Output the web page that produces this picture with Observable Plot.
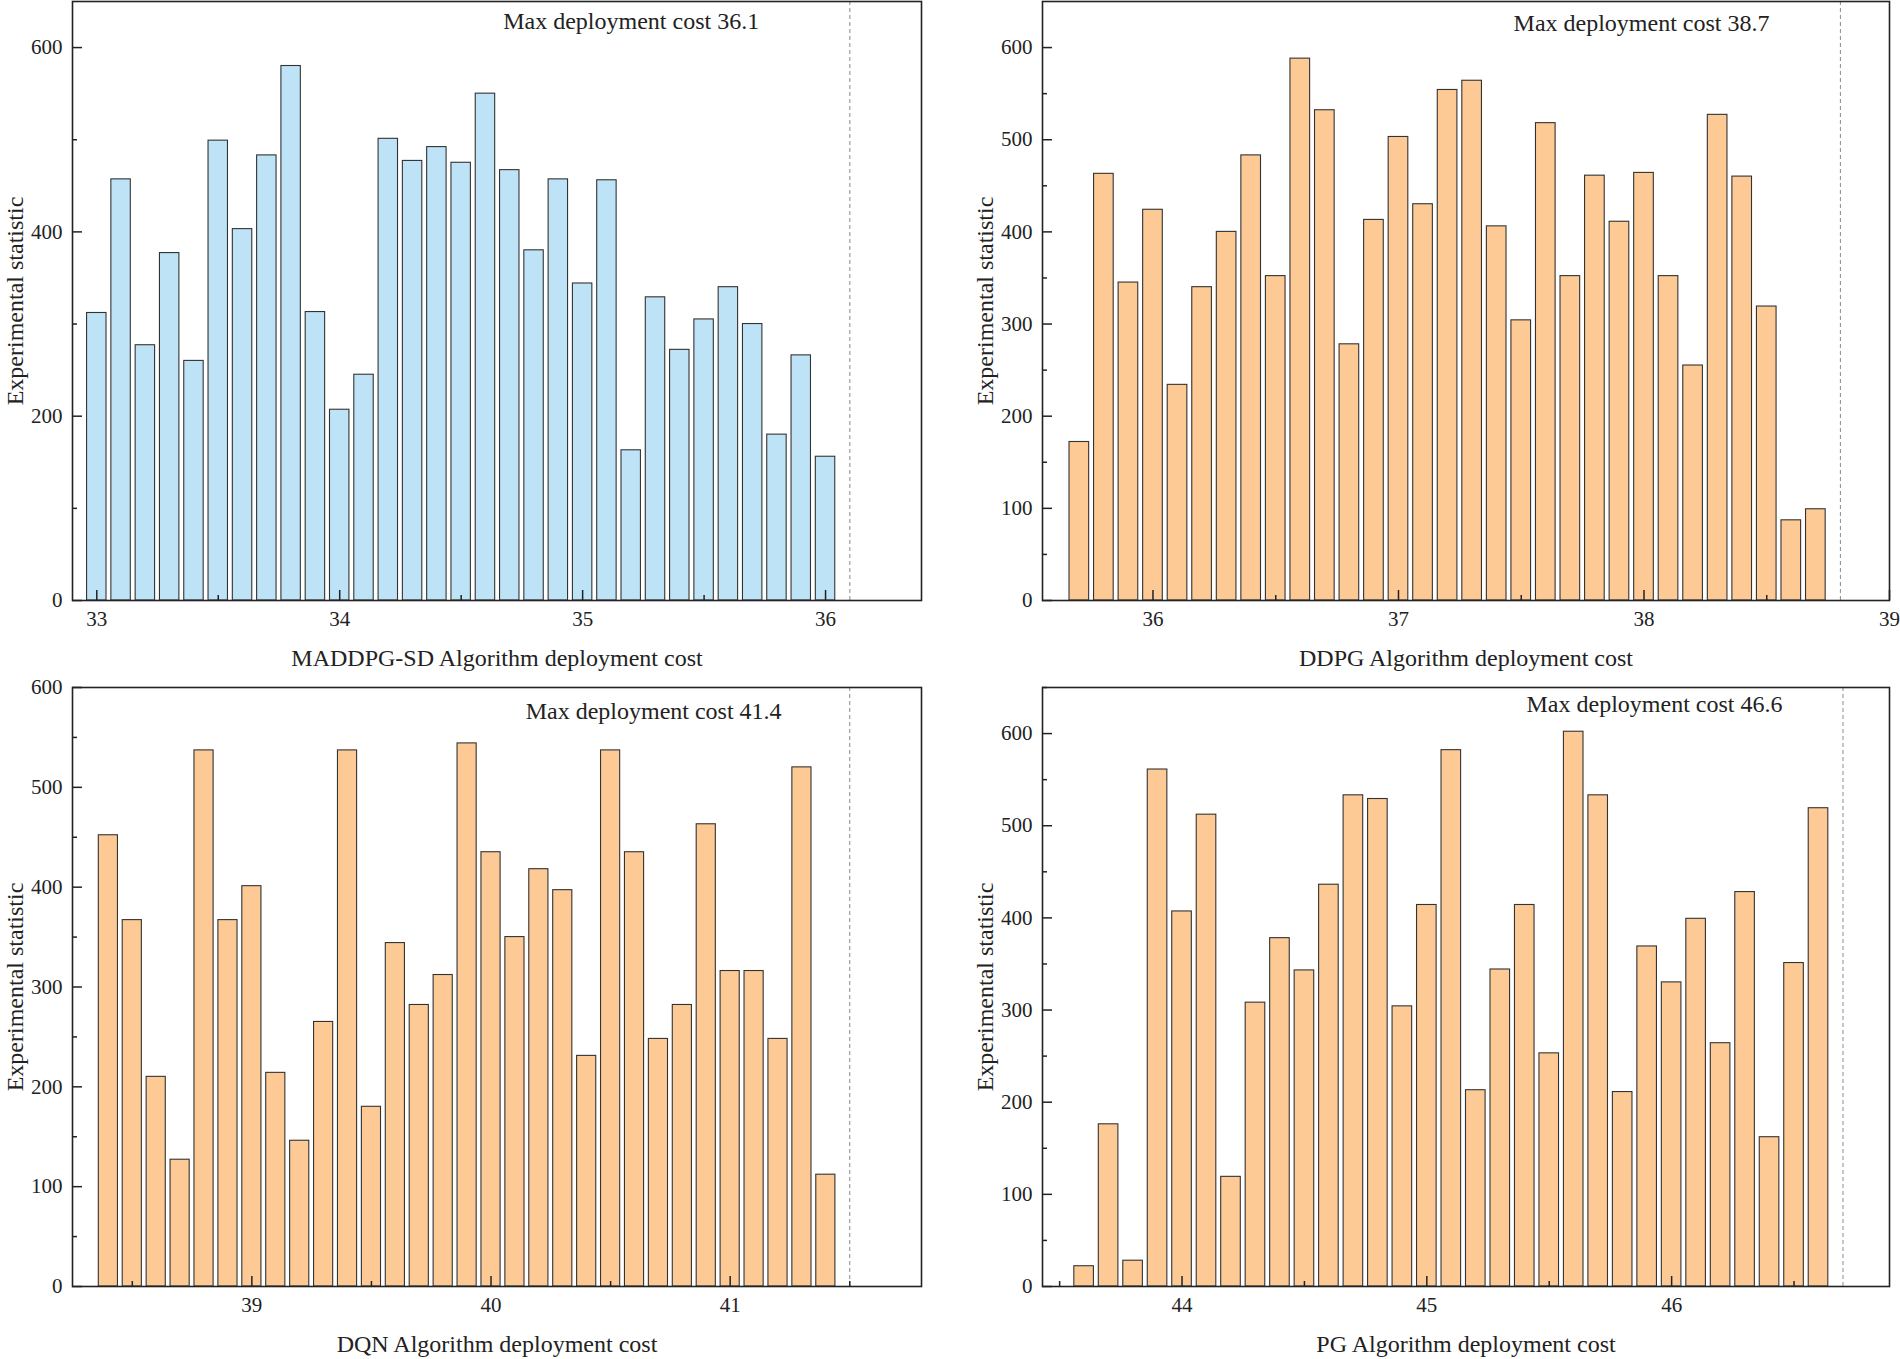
<!DOCTYPE html>
<html>
<head>
<meta charset="utf-8">
<script src="https://cdn.jsdelivr.net/npm/d3@7"></script>
<script src="https://cdn.jsdelivr.net/npm/@observablehq/plot@0.6"></script>
<style>
html, body { margin: 0; padding: 0; background: #fff; }
#root { position: relative; width: 1900px; height: 1359px; background: #fff; overflow: hidden; }
#root > div { position: absolute; }
</style>
</head>
<body>
<div id="root"></div>
<script>
// ---- Data ----
const maddpgCost  = [33.0,33.1,33.2,33.3,33.4,33.5,33.6,33.7,33.8,33.9,34.0,34.1,34.2,34.3,34.4,34.5,34.6,34.7,34.8,34.9,35.0,35.1,35.2,35.3,35.4,35.5,35.6,35.7,35.8,35.9,36.0];
const maddpgCount = [312,457,277,377,260,499,403,483,580,313,207,245,501,477,492,475,550,467,380,457,344,456,163,329,272,305,340,300,180,266,156];

const ddpgCost  = [35.7,35.8,35.9,36.0,36.1,36.2,36.3,36.4,36.5,36.6,36.7,36.8,36.9,37.0,37.1,37.2,37.3,37.4,37.5,37.6,37.7,37.8,37.9,38.0,38.1,38.2,38.3,38.4,38.5,38.6,38.7];
const ddpgCount = [172,463,345,424,234,340,400,483,352,588,532,278,413,503,430,554,564,406,304,518,352,461,411,464,352,255,527,460,319,87,99];

const dqnCost  = [38.4,38.5,38.6,38.7,38.8,38.9,39.0,39.1,39.2,39.3,39.4,39.5,39.6,39.7,39.8,39.9,40.0,40.1,40.2,40.3,40.4,40.5,40.6,40.7,40.8,40.9,41.0,41.1,41.2,41.3,41.4];
const dqnCount = [452,367,210,127,537,367,401,214,146,265,537,180,344,282,312,544,435,350,418,397,231,537,435,248,282,463,316,316,248,520,112];

const pgCost  = [43.6,43.7,43.8,43.9,44.0,44.1,44.2,44.3,44.4,44.5,44.6,44.7,44.8,44.9,45.0,45.1,45.2,45.3,45.4,45.5,45.6,45.7,45.8,45.9,46.0,46.1,46.2,46.3,46.4,46.5,46.6];
const pgCount = [22,176,28,561,407,512,119,308,378,343,436,533,529,304,414,582,213,344,414,253,602,533,211,369,330,399,264,428,162,351,519];

// Tick values
const maddpgXTicks = [33,34,35,36];       const maddpgXMinor = [33.5,34.5,35.5];
const ddpgXTicks   = [36,37,38,39];       const ddpgXMinor   = [36.5,37.5,38.5];
const dqnXTicks    = [39,40,41];          const dqnXMinor    = [38.5,39.5,40.5,41.5];
const pgXTicks     = [44,45,46];          const pgXMinor     = [43.5,44.5,45.5,46.5];
const yTicks200 = [0,200,400,600];        const yMinor200 = [100,300,500];
const yTicks100 = [0,100,200,300,400,500,600];
const yMinor50 = [50,150,250,350,450,550];
const yMinor50b = [50,150,250,350,450,550,650];

// Max deployment cost lines and labels
const maxLines = [36.1, 38.8, 41.5, 46.7];
const notes = ["Max deployment cost 36.1","Max deployment cost 38.7","Max deployment cost 41.4","Max deployment cost 46.6"];
const xTitles = ["MADDPG-SD Algorithm deployment cost","DDPG Algorithm deployment cost","DQN Algorithm deployment cost","PG Algorithm deployment cost"];
const yTitle = "Experimental statistic";

const BLUE = "#bee3f7", ORANGE = "#fdca96";
const FONT = "'Liberation Serif','Times New Roman',serif";

const panels = [
  {cost: maddpgCost, count: maddpgCount, fill: BLUE, left: 0, top: 0, width: 950, height: 680,
   mL: 72, mR: 29, mT: 1, mB: 80, xDomain: [32.9, 36.395], yDomain: [0, 650],
   xMajor: maddpgXTicks, xMinor: maddpgXMinor, yMajor: yTicks200, yMinor: yMinor200,
   maxLine: maxLines[0], note: notes[0], noteX: 35.2, noteDy: 20, xTitle: xTitles[0]},
  {cost: ddpgCost, count: ddpgCount, fill: ORANGE, left: 950, top: 0, width: 950, height: 680,
   mL: 92, mR: 11, mT: 1, mB: 80, xDomain: [35.55, 39.0], yDomain: [0, 650],
   xMajor: ddpgXTicks, xMinor: ddpgXMinor, yMajor: yTicks100, yMinor: yMinor50,
   maxLine: maxLines[1], note: notes[1], noteX: 37.99, noteDy: 22, xTitle: xTitles[1]},
  {cost: dqnCost, count: dqnCount, fill: ORANGE, left: 0, top: 686, width: 950, height: 673,
   mL: 72, mR: 29, mT: 1, mB: 73, xDomain: [38.25, 41.80], yDomain: [0, 600],
   xMajor: dqnXTicks, xMinor: dqnXMinor, yMajor: yTicks100, yMinor: yMinor50,
   maxLine: maxLines[2], note: notes[2], noteX: 40.68, noteDy: 24, xTitle: xTitles[2]},
  {cost: pgCost, count: pgCount, fill: ORANGE, left: 950, top: 686, width: 950, height: 673,
   mL: 92, mR: 11, mT: 1, mB: 73, xDomain: [43.43, 46.89], yDomain: [0, 650],
   xMajor: pgXTicks, xMinor: pgXMinor, yMajor: yTicks100, yMinor: yMinor50b,
   maxLine: maxLines[3], note: notes[3], noteX: 45.93, noteDy: 17, xTitle: xTitles[3]}
];

const root = document.getElementById("root");
const intFmt = d3.format("d");

for (const p of panels) {
  const data = p.cost.map((c, i) => ({cost: c, count: p.count[i]}));
  const innerH = p.height - p.mT - p.mB;
  const innerW = p.width - p.mL - p.mR;
  const chart = Plot.plot({
    width: p.width,
    height: p.height,
    marginLeft: p.mL, marginRight: p.mR, marginTop: p.mT, marginBottom: p.mB,
    style: {fontFamily: FONT, fontSize: "21px", color: "#222", background: "#fff", overflow: "visible"},
    x: {domain: p.xDomain, axis: null},
    y: {domain: p.yDomain, axis: null},
    marks: [
      Plot.rectY(data, {x1: d => d.cost - 0.04, x2: d => d.cost + 0.04, y: "count",
        fill: p.fill, stroke: "#333", strokeWidth: 1.1}),
      Plot.ruleX([p.maxLine], {x: d => d, stroke: "#8a8a8a", strokeWidth: 1, strokeDasharray: "4,3"}),
      // inward ticks
      Plot.tickX(p.xMajor, {x: d => d, insetTop: innerH - 10, stroke: "#222", strokeWidth: 1.5}),
      Plot.tickX(p.xMinor, {x: d => d, insetTop: innerH - 5, stroke: "#222", strokeWidth: 1.5}),
      Plot.tickY(p.yMajor, {y: d => d, insetRight: innerW - 10, stroke: "#222", strokeWidth: 1.5}),
      Plot.tickY(p.yMinor, {y: d => d, insetRight: innerW - 5, stroke: "#222", strokeWidth: 1.5}),
      Plot.frame({stroke: "#222", strokeWidth: 1.6}),
      // tick labels
      Plot.axisX(p.xMajor, {tickSize: 0, tickPadding: 11, fontSize: 21, label: null, fill: "#222", tickFormat: intFmt}),
      Plot.axisY(p.yMajor, {tickSize: 0, tickPadding: 10, fontSize: 21, label: null, fill: "#222", tickFormat: intFmt}),
      // titles
      Plot.text([p.xTitle], {text: d => d, frameAnchor: "bottom", dy: 58, lineAnchor: "middle",
        fontSize: 24, fill: "#222"}),
      Plot.text([yTitle], {text: d => d, frameAnchor: "left", dx: -57, rotate: -90, lineAnchor: "middle",
        textAnchor: "middle", fontSize: 24, fill: "#222"}),
      Plot.text([p.note], {text: d => d, x: p.noteX, frameAnchor: "top", dy: p.noteDy, lineAnchor: "middle",
        fontSize: 24, fill: "#222"})
    ]
  });
  const wrap = document.createElement("div");
  wrap.style.left = p.left + "px";
  wrap.style.top = p.top + "px";
  wrap.appendChild(chart);
  root.appendChild(wrap);
}
</script>
</body>
</html>
